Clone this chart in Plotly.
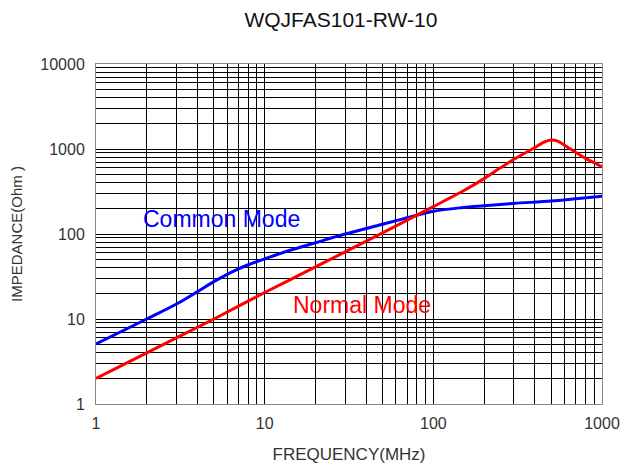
import plotly.graph_objects as go

title_text = "WQJFAS101-RW-10"
x_title = "FREQUENCY(MHz)"
y_title = "IMPEDANCE(Ohm )"

common_freq = [1, 2, 3, 4, 5, 6, 7, 8, 10, 14, 20, 30, 50, 70, 100, 150, 200, 300, 500, 700, 1000]
common_imp = [5.1, 10.0, 15.0, 21.0, 27.5, 33.5, 39.0, 43.5, 51.0, 64.0, 79.0, 100, 130, 155, 185, 205, 215, 229, 244, 260, 279]

normal_freq = [1, 2, 5, 10, 20, 50, 100, 150, 200, 250, 300, 400, 450, 500, 550, 600, 700, 800, 900, 1000]
normal_imp = [2.0, 4.0, 10.0, 20.5, 41, 103, 210, 320, 448, 600, 757, 1040, 1200, 1275, 1230, 1110, 908, 771, 692, 614]

x_major = [1, 10, 100, 1000]
y_major = [1, 10, 100, 1000, 10000]

def log_grid(decades):
    vals, txt = [], []
    for d in decades[:-1]:
        for k in range(1, 10):
            vals.append(d * k)
            txt.append(str(d) if k == 1 else "")
    vals.append(decades[-1])
    txt.append(str(decades[-1]))
    return vals, txt

xv, xt = log_grid(x_major)
yv, yt = log_grid(y_major)

FONT = "Liberation Sans, Arial"
W, H = 620, 469

fig = go.Figure()
fig.add_trace(go.Scatter(x=common_freq, y=common_imp, mode="lines",
                         line=dict(color="#0000ff", width=3, shape="spline", smoothing=1.0),
                         showlegend=False))
fig.add_trace(go.Scatter(x=normal_freq, y=normal_imp, mode="lines",
                         line=dict(color="#ff0000", width=3, shape="spline", smoothing=0.6),
                         showlegend=False))

fig.add_annotation(x=0.747, y=2.18, xref="x", yref="y", text="Common Mode", showarrow=False,
                   font=dict(family=FONT, size=23, color="#0000ff"))
fig.add_annotation(x=1.58, y=1.16, xref="x", yref="y", text="Normal Mode", showarrow=False,
                   font=dict(family=FONT, size=23, color="#ff0000"))

axis_common = dict(showline=True, mirror=True, linecolor="#888888", linewidth=1,
                   showgrid=True, gridcolor="#000000", gridwidth=1, zeroline=False,
                   ticks="", automargin=False, ticklabeloverflow="allow",
                   tickfont=dict(family=FONT, size=16, color="#333333"))

fig.update_xaxes(type="log", range=[0, 3], tickmode="array", tickvals=xv, ticktext=xt,
                 ticklabelstandoff=5,
                 title=dict(text=x_title, font=dict(family=FONT, size=17, color="#333333"), standoff=16),
                 **axis_common)
fig.update_yaxes(type="log", range=[0, 4], tickmode="array", tickvals=yv, ticktext=yt,
                 ticklabelstandoff=7,
                 title=dict(text=y_title, font=dict(family=FONT, size=15, color="#333333"), standoff=14),
                 **axis_common)

fig.update_layout(
    width=W, height=H,
    margin=dict(l=96, r=18, t=64, b=65),
    paper_bgcolor="white", plot_bgcolor="white",
    title=dict(text=title_text, xref="paper", x=0.484, xanchor="center",
               yref="container", y=1 - 20 / H, yanchor="middle",
               font=dict(family=FONT, size=21, color="#111111")),
    font=dict(family=FONT),
)

fig.write_html("out.html",
               config={"displayModeBar": False},
               post_script="document.body.style.margin='0';document.body.style.overflow='hidden';")
